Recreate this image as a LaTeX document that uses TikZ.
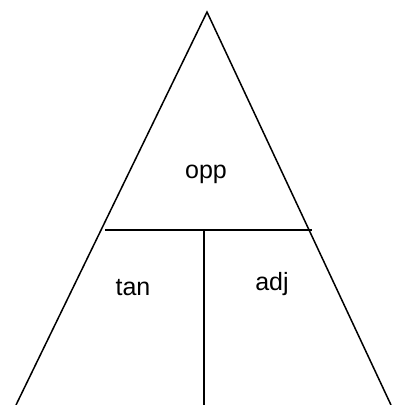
\documentclass[tikz,border=0pt]{standalone}
\usepackage{fontspec}
\setmainfont{Liberation Sans}
\usetikzlibrary{positioning}
\tikzset{
  tline/.style={line width=1.5pt, line join=miter},
  tlabel/.style={font=\fontsize{25}{28}\selectfont, inner sep=0pt}
}
\begin{document}
\begin{tikzpicture}[x=1pt, y=-1pt]
\useasboundingbox (0,0) rectangle (392,405);
% corners of the triangle
\coordinate (apex) at (207,12);
\coordinate (bl) at (16,405);
\coordinate (br) at (391,405);
\coordinate (ml) at (105,230);
\coordinate (mr) at (312,230);
\coordinate (mid) at (204,230);
\coordinate (midb) at (204,405);

\draw[tline] (bl) -- (apex) -- (br);
\draw[tline] (ml) -- (mr);
\draw[tline] (mid) -- (midb);

\node[tlabel] (opp) at (206,174) {opp};
\node[tlabel] (tan) at (133,288) {tan};
\node[tlabel] (adj) at (272,284) {adj};
\end{tikzpicture}
\end{document}
